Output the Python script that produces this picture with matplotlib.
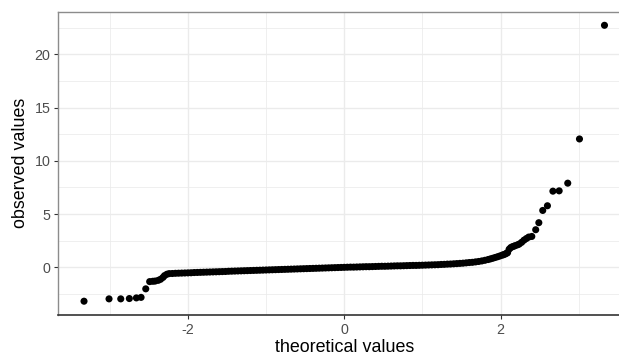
import matplotlib
matplotlib.use("Agg")
import matplotlib.pyplot as plt
from matplotlib.ticker import FixedLocator

plt.rcParams['font.family'] = ['Liberation Sans', 'DejaVu Sans']

# Normal Q-Q plot: theoretical quantiles vs. sorted observed values
theoretical = [
    -3.33, -3.01, -2.86, -2.75, -2.66, -2.60, -2.54, -2.49, -2.45, -2.42,
    -2.38, -2.35, -2.32, -2.30, -2.27,
    -2.24, -2.20, -2.16, -2.12, -2.08, -2.04, -2.00, -1.96, -1.92, -1.88,
    -1.84, -1.80, -1.76, -1.72, -1.68, -1.64, -1.60, -1.56, -1.52, -1.48,
    -1.44, -1.40, -1.36, -1.32, -1.28, -1.24, -1.20, -1.16, -1.12, -1.08,
    -1.04, -1.00, -0.96, -0.92, -0.88, -0.84, -0.80, -0.76, -0.72, -0.68,
    -0.64, -0.60, -0.56, -0.52, -0.48, -0.44, -0.40, -0.36, -0.32, -0.28,
    -0.24, -0.20, -0.16, -0.12, -0.08, -0.04, 0.00, 0.04, 0.08, 0.12,
    0.16, 0.20, 0.24, 0.28, 0.32, 0.36, 0.40, 0.44, 0.48, 0.52,
    0.56, 0.60, 0.64, 0.68, 0.72, 0.76, 0.80, 0.84, 0.88, 0.92,
    0.96, 1.00, 1.04, 1.08, 1.12, 1.16, 1.20, 1.24, 1.28, 1.32,
    1.36, 1.40, 1.44, 1.48, 1.52, 1.56, 1.60, 1.64, 1.68, 1.72,
    1.76, 1.80, 1.84, 1.87, 1.90, 1.93, 1.96, 1.99, 2.02, 2.04,
    2.06, 2.08, 2.09, 2.11, 2.13, 2.15, 2.17, 2.19, 2.22, 2.24,
    2.27, 2.30, 2.33, 2.36, 2.40, 2.45, 2.49, 2.54, 2.60, 2.67,
    2.75, 2.86, 3.01, 3.33,
]
observed = [
    -3.18, -2.96, -2.96, -2.93, -2.87, -2.82, -2.02, -1.34, -1.31, -1.29,
    -1.22, -1.12, -0.95, -0.78, -0.65,
    -0.59, -0.58, -0.56, -0.55, -0.54, -0.53, -0.52, -0.51, -0.49, -0.48,
    -0.47, -0.46, -0.45, -0.44, -0.43, -0.42, -0.41, -0.40, -0.39, -0.37,
    -0.36, -0.35, -0.34, -0.33, -0.32, -0.31, -0.30, -0.29, -0.28, -0.27,
    -0.26, -0.25, -0.24, -0.23, -0.22, -0.21, -0.20, -0.19, -0.18, -0.17,
    -0.16, -0.15, -0.14, -0.13, -0.12, -0.11, -0.10, -0.09, -0.08, -0.07,
    -0.06, -0.05, -0.04, -0.03, -0.02, -0.01, 0.00, 0.01, 0.02, 0.02,
    0.03, 0.04, 0.05, 0.06, 0.06, 0.07, 0.08, 0.09, 0.10, 0.10,
    0.11, 0.12, 0.13, 0.14, 0.14, 0.15, 0.16, 0.17, 0.18, 0.18,
    0.19, 0.20, 0.21, 0.22, 0.23, 0.24, 0.25, 0.27, 0.28, 0.30,
    0.31, 0.33, 0.35, 0.37, 0.39, 0.42, 0.45, 0.47, 0.51, 0.55,
    0.60, 0.66, 0.73, 0.79, 0.85, 0.92, 0.99, 1.06, 1.14, 1.19,
    1.25, 1.33, 1.38, 1.70, 1.85, 1.93, 1.98, 2.04, 2.12, 2.19,
    2.35, 2.55, 2.70, 2.84, 2.90, 3.53, 4.19, 5.34, 5.78, 7.15,
    7.18, 7.90, 12.05, 22.72,
]

x_major = [-2, 0, 2]
x_minor = [-3, -1, 1, 3]
y_major = [0, 5, 10, 15, 20]
y_minor = [-2.5, 2.5, 7.5, 12.5, 17.5, 22.5]

W, H = 619, 360
fig = plt.figure(figsize=(W / 100, H / 100), dpi=100)
ax = fig.add_axes([58 / W, 45 / H, 572.5 / W, 303.5 / H])

ax.scatter(theoretical, observed, s=26, color='black', edgecolors='none',
           zorder=3)

# 5% padding on each side, as ggplot does
xr = max(theoretical) - min(theoretical)
yr = max(observed) - min(observed)
ax.set_xlim(min(theoretical) - 0.05 * xr, max(theoretical) + 0.05 * xr)
ax.set_ylim(min(observed) - 0.05 * yr, max(observed) + 0.05 * yr)

ax.xaxis.set_major_locator(FixedLocator(x_major))
ax.xaxis.set_minor_locator(FixedLocator(x_minor))
ax.yaxis.set_major_locator(FixedLocator(y_major))
ax.yaxis.set_minor_locator(FixedLocator(y_minor))
ax.set_xticklabels([str(v) for v in x_major])
ax.set_yticklabels([str(v) for v in y_major])

ax.grid(which='major', color='#EBEBEB', linewidth=1.0, zorder=0)
ax.grid(which='minor', color='#EBEBEB', linewidth=0.55, zorder=0)
ax.set_axisbelow(True)

ax.tick_params(which='major', length=2.9, width=0.8, color='#333333',
               labelcolor='#4D4D4D', labelsize=10.3, pad=2.5)
ax.tick_params(which='minor', length=0)

for side in ('top', 'left', 'right'):
    ax.spines[side].set_color('#8C8C8C')
    ax.spines[side].set_linewidth(1.0)
ax.spines['bottom'].set_color('#333333')
ax.spines['bottom'].set_linewidth(1.2)

ax.set_xlabel('theoretical values', fontsize=12.9, color='black', labelpad=2)
ax.set_ylabel('observed values', fontsize=12.9, color='black', labelpad=4)

fig.savefig('out.png', dpi=100)
